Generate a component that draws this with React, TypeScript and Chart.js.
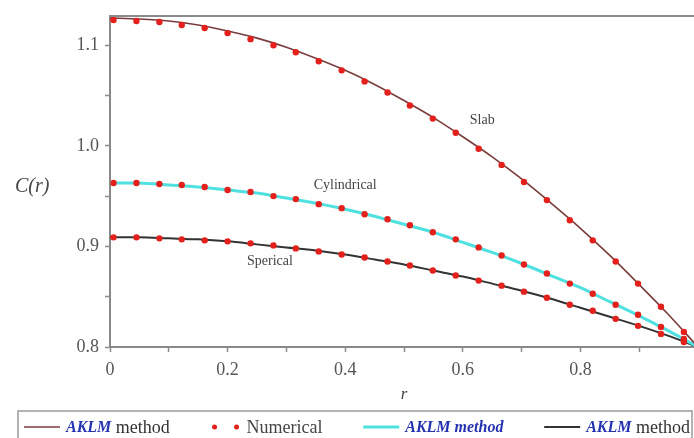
import React, { useEffect, useRef } from "react";
import { Chart, registerables } from "chart.js";

Chart.register(...registerables);

// r grid for the analytic (AKLM) curves
const lineR = [0, 0.05, 0.1, 0.15, 0.2, 0.25, 0.3, 0.35, 0.4, 0.45, 0.5, 0.55, 0.6, 0.65, 0.7, 0.75, 0.8, 0.85, 0.9, 0.95, 1.0];
const slabLine = [1.127, 1.126, 1.124, 1.120, 1.114, 1.107, 1.098, 1.087, 1.075, 1.061, 1.045, 1.028, 1.009, 0.989, 0.967, 0.943, 0.918, 0.891, 0.862, 0.832, 0.800];
const cylLine = [0.963, 0.963, 0.961, 0.959, 0.956, 0.953, 0.948, 0.943, 0.937, 0.930, 0.922, 0.914, 0.904, 0.894, 0.883, 0.871, 0.859, 0.845, 0.831, 0.816, 0.800];
const sphLine = [0.909, 0.909, 0.908, 0.907, 0.905, 0.902, 0.899, 0.896, 0.892, 0.887, 0.882, 0.876, 0.870, 0.863, 0.856, 0.848, 0.839, 0.830, 0.821, 0.811, 0.800];

// r positions of the numerical points
const dotR = [0.006, 0.045, 0.084, 0.122, 0.161, 0.200, 0.239, 0.278, 0.316, 0.355, 0.394, 0.433, 0.472, 0.510, 0.549, 0.588, 0.627, 0.666, 0.704, 0.743, 0.782, 0.821, 0.860, 0.898, 0.937, 0.976];
const slabDots = [1.125, 1.124, 1.123, 1.120, 1.117, 1.112, 1.106, 1.100, 1.093, 1.084, 1.075, 1.064, 1.053, 1.040, 1.027, 1.013, 0.997, 0.981, 0.964, 0.946, 0.926, 0.906, 0.885, 0.863, 0.840, 0.815];
const cylDots = [0.963, 0.963, 0.962, 0.961, 0.959, 0.956, 0.954, 0.950, 0.947, 0.942, 0.938, 0.932, 0.927, 0.921, 0.914, 0.907, 0.899, 0.891, 0.882, 0.873, 0.863, 0.853, 0.842, 0.832, 0.820, 0.808];
const sphDots = [0.909, 0.909, 0.908, 0.907, 0.906, 0.905, 0.903, 0.901, 0.898, 0.895, 0.892, 0.889, 0.885, 0.881, 0.876, 0.871, 0.866, 0.861, 0.855, 0.849, 0.842, 0.836, 0.828, 0.821, 0.813, 0.805];

const xTickValues = [0, 0.2, 0.4, 0.6, 0.8, 1];
const xTickLabels = ["0", "0.2", "0.4", "0.6", "0.8", "1"];
const yTickValues = [0.8, 0.9, 1.0, 1.1];
const yTickLabels = ["0.8", "0.9", "1.0", "1.1"];

const curveNames = ["Slab", "Cylindrical", "Sperical"];
const curveLabelR = [0.633, 0.4, 0.272];
const curveLabelC = [1.025, 0.961, 0.885];

const SERIF = '"Liberation Serif", "Times New Roman", serif';
const C_SLAB = "#7a3c3c";
const C_CYL = "#4fe0e0";
const C_SPH = "#333333";
const C_DOT = "#e3201b";
const C_AXIS = "#8a8a8a";
const C_TEXT = "#555555";
const C_BLUE = "#2432b0";

const pts = (xs: number[], ys: number[]) => xs.map((x, i) => ({ x, y: ys[i] }));

const lookup = (vals: number[], labels: string[], v: number) => {
  for (let i = 0; i < vals.length; i++) if (Math.abs(vals[i] - v) < 1e-6) return labels[i];
  return "";
};

const decorPlugin = {
  id: "decor",
  afterDraw(chart: any) {
    const ctx = chart.ctx as CanvasRenderingContext2D;
    const a = chart.chartArea;
    const xs = chart.scales.x;
    const ys = chart.scales.y;
    ctx.save();
    // frame
    ctx.strokeStyle = C_AXIS;
    ctx.lineWidth = 2;
    ctx.beginPath();
    ctx.moveTo(a.left, a.top);
    ctx.lineTo(a.right, a.top);
    ctx.lineTo(a.right, a.bottom);
    ctx.stroke();

    // curve annotations
    ctx.fillStyle = "#444";
    ctx.font = `14px ${SERIF}`;
    ctx.textAlign = "center";
    ctx.textBaseline = "middle";
    curveNames.forEach((n, i) => {
      ctx.fillText(n, xs.getPixelForValue(curveLabelR[i]), ys.getPixelForValue(curveLabelC[i]));
    });

    // axis titles
    ctx.fillStyle = "#444";
    ctx.font = `italic 20px ${SERIF}`;
    ctx.textAlign = "left";
    ctx.fillText("C(r)", 15, 187);
    ctx.font = `italic 17px ${SERIF}`;
    ctx.textAlign = "center";
    ctx.fillText("r", (a.left + a.right) / 2, 395);

    // legend
    const boxL = 18, boxT = 411, boxR = 692;
    ctx.strokeStyle = "#9a9a9a";
    ctx.lineWidth = 1.5;
    ctx.strokeRect(boxL, boxT, boxR - boxL, 40);

    const fBI = `italic bold 16px ${SERIF}`;
    const fR = `18px ${SERIF}`;
    const ly = 427;
    const lineW = 36;
    const gapIn = 6;
    type Part = { kind: "line"; color: string; w: number } | { kind: "dots" } | { kind: "text"; text: string; font: string; color: string };
    const items: Part[][] = [
      [{ kind: "line", color: C_SLAB, w: 1.5 }, { kind: "text", text: "AKLM", font: fBI, color: C_BLUE }, { kind: "text", text: " method", font: fR, color: "#333" }],
      [{ kind: "dots" }, { kind: "text", text: "Numerical", font: fR, color: "#444" }],
      [{ kind: "line", color: C_CYL, w: 3 }, { kind: "text", text: "AKLM method", font: fBI, color: C_BLUE }],
      [{ kind: "line", color: C_SPH, w: 2 }, { kind: "text", text: "AKLM", font: fBI, color: C_BLUE }, { kind: "text", text: " method", font: fR, color: "#333" }],
    ];
    const partW = (p: Part) => {
      if (p.kind === "line") return lineW;
      if (p.kind === "dots") return 30;
      ctx.font = p.font;
      return ctx.measureText(p.text).width;
    };
    const itemW = items.map((it) => it.reduce((s, p, i) => s + partW(p) + (i > 0 && p.kind === "text" && it[i - 1].kind !== "text" ? gapIn : 0), 0));
    const startX = 24, endX = 690;
    const total = itemW.reduce((s, w) => s + w, 0);
    const gap = (endX - startX - total) / (items.length - 1);
    let x = startX;
    items.forEach((it, k) => {
      it.forEach((p, i) => {
        if (i > 0 && p.kind === "text" && it[i - 1].kind !== "text") x += gapIn;
        if (p.kind === "line") {
          ctx.strokeStyle = p.color;
          ctx.lineWidth = p.w;
          ctx.beginPath();
          ctx.moveTo(x, ly);
          ctx.lineTo(x + lineW, ly);
          ctx.stroke();
          x += lineW;
        } else if (p.kind === "dots") {
          ctx.fillStyle = C_DOT;
          [x + 4, x + 26].forEach((cx) => {
            ctx.beginPath();
            ctx.arc(cx, ly, 2.5, 0, Math.PI * 2);
            ctx.fill();
          });
          x += 30;
        } else {
          ctx.font = p.font;
          ctx.fillStyle = p.color;
          ctx.textAlign = "left";
          ctx.textBaseline = "middle";
          ctx.fillText(p.text, x, ly + 1);
          x += ctx.measureText(p.text).width;
        }
      });
      if (k < items.length - 1) x += gap;
    });
    ctx.restore();
  },
};

export default function App() {
  const ref = useRef<HTMLCanvasElement>(null);
  useEffect(() => {
    if (!ref.current) return;
    const lineDs = (data: number[], color: string, w: number) => ({
      data: pts(lineR, data),
      showLine: true,
      borderColor: color,
      borderWidth: w,
      pointRadius: 0,
      tension: 0.3,
      fill: false,
    });
    const dotDs = (data: number[]) => ({
      data: pts(dotR, data),
      showLine: false,
      pointRadius: 3.2,
      pointBackgroundColor: C_DOT,
      pointBorderWidth: 0,
      backgroundColor: C_DOT,
    });
    const chart = new Chart(ref.current, {
      type: "scatter",
      data: {
        // Chart.js paints the first dataset last, so dots come first to sit on top
        datasets: [
          dotDs(slabDots),
          dotDs(cylDots),
          dotDs(sphDots),
          lineDs(slabLine, C_SLAB, 1.6),
          lineDs(cylLine, C_CYL, 3),
          lineDs(sphLine, C_SPH, 2),
        ] as any,
      },
      options: {
        animation: false,
        responsive: false,
        events: [],
        layout: { padding: { top: 16, right: 8, left: 0, bottom: 0 } },
        plugins: { legend: { display: false }, tooltip: { enabled: false } },
        scales: {
          x: {
            type: "linear",
            min: 0,
            max: 1,
            afterFit: (s: any) => { s.height = 91; s.paddingRight = 0; s.paddingLeft = 0; },
            ticks: {
              stepSize: 0.1,
              maxRotation: 0,
              autoSkip: false,
              padding: 7,
              color: C_TEXT,
              font: { family: SERIF, size: 18 },
              callback: (v: any) => lookup(xTickValues, xTickLabels, Number(v)),
            },
            grid: { drawOnChartArea: false, drawTicks: true, tickLength: 5, color: C_AXIS, tickWidth: 1.5 },
            border: { display: true, color: C_AXIS, width: 2 },
          },
          y: {
            type: "linear",
            min: 0.8,
            max: 1.129,
            afterFit: (s: any) => { s.width = 110; s.paddingTop = 0; s.paddingBottom = 0; },
            ticks: {
              stepSize: 0.05,
              includeBounds: false,
              autoSkip: false,
              padding: 6,
              color: C_TEXT,
              font: { family: SERIF, size: 18 },
              callback: (v: any) => lookup(yTickValues, yTickLabels, Number(v)),
            },
            grid: { drawOnChartArea: false, drawTicks: true, tickLength: 5, color: C_AXIS, tickWidth: 1.5 },
            border: { display: true, color: C_AXIS, width: 2 },
          },
        },
      },
      plugins: [decorPlugin],
    } as any);
    return () => chart.destroy();
  }, []);
  return (
    <div style={{ position: "fixed", left: 0, top: 0, width: 706, height: 438, background: "#fff", overflow: "hidden" }}>
      <canvas ref={ref} width={706} height={438} style={{ display: "block", width: 706, height: 438 }} />
    </div>
  );
}
